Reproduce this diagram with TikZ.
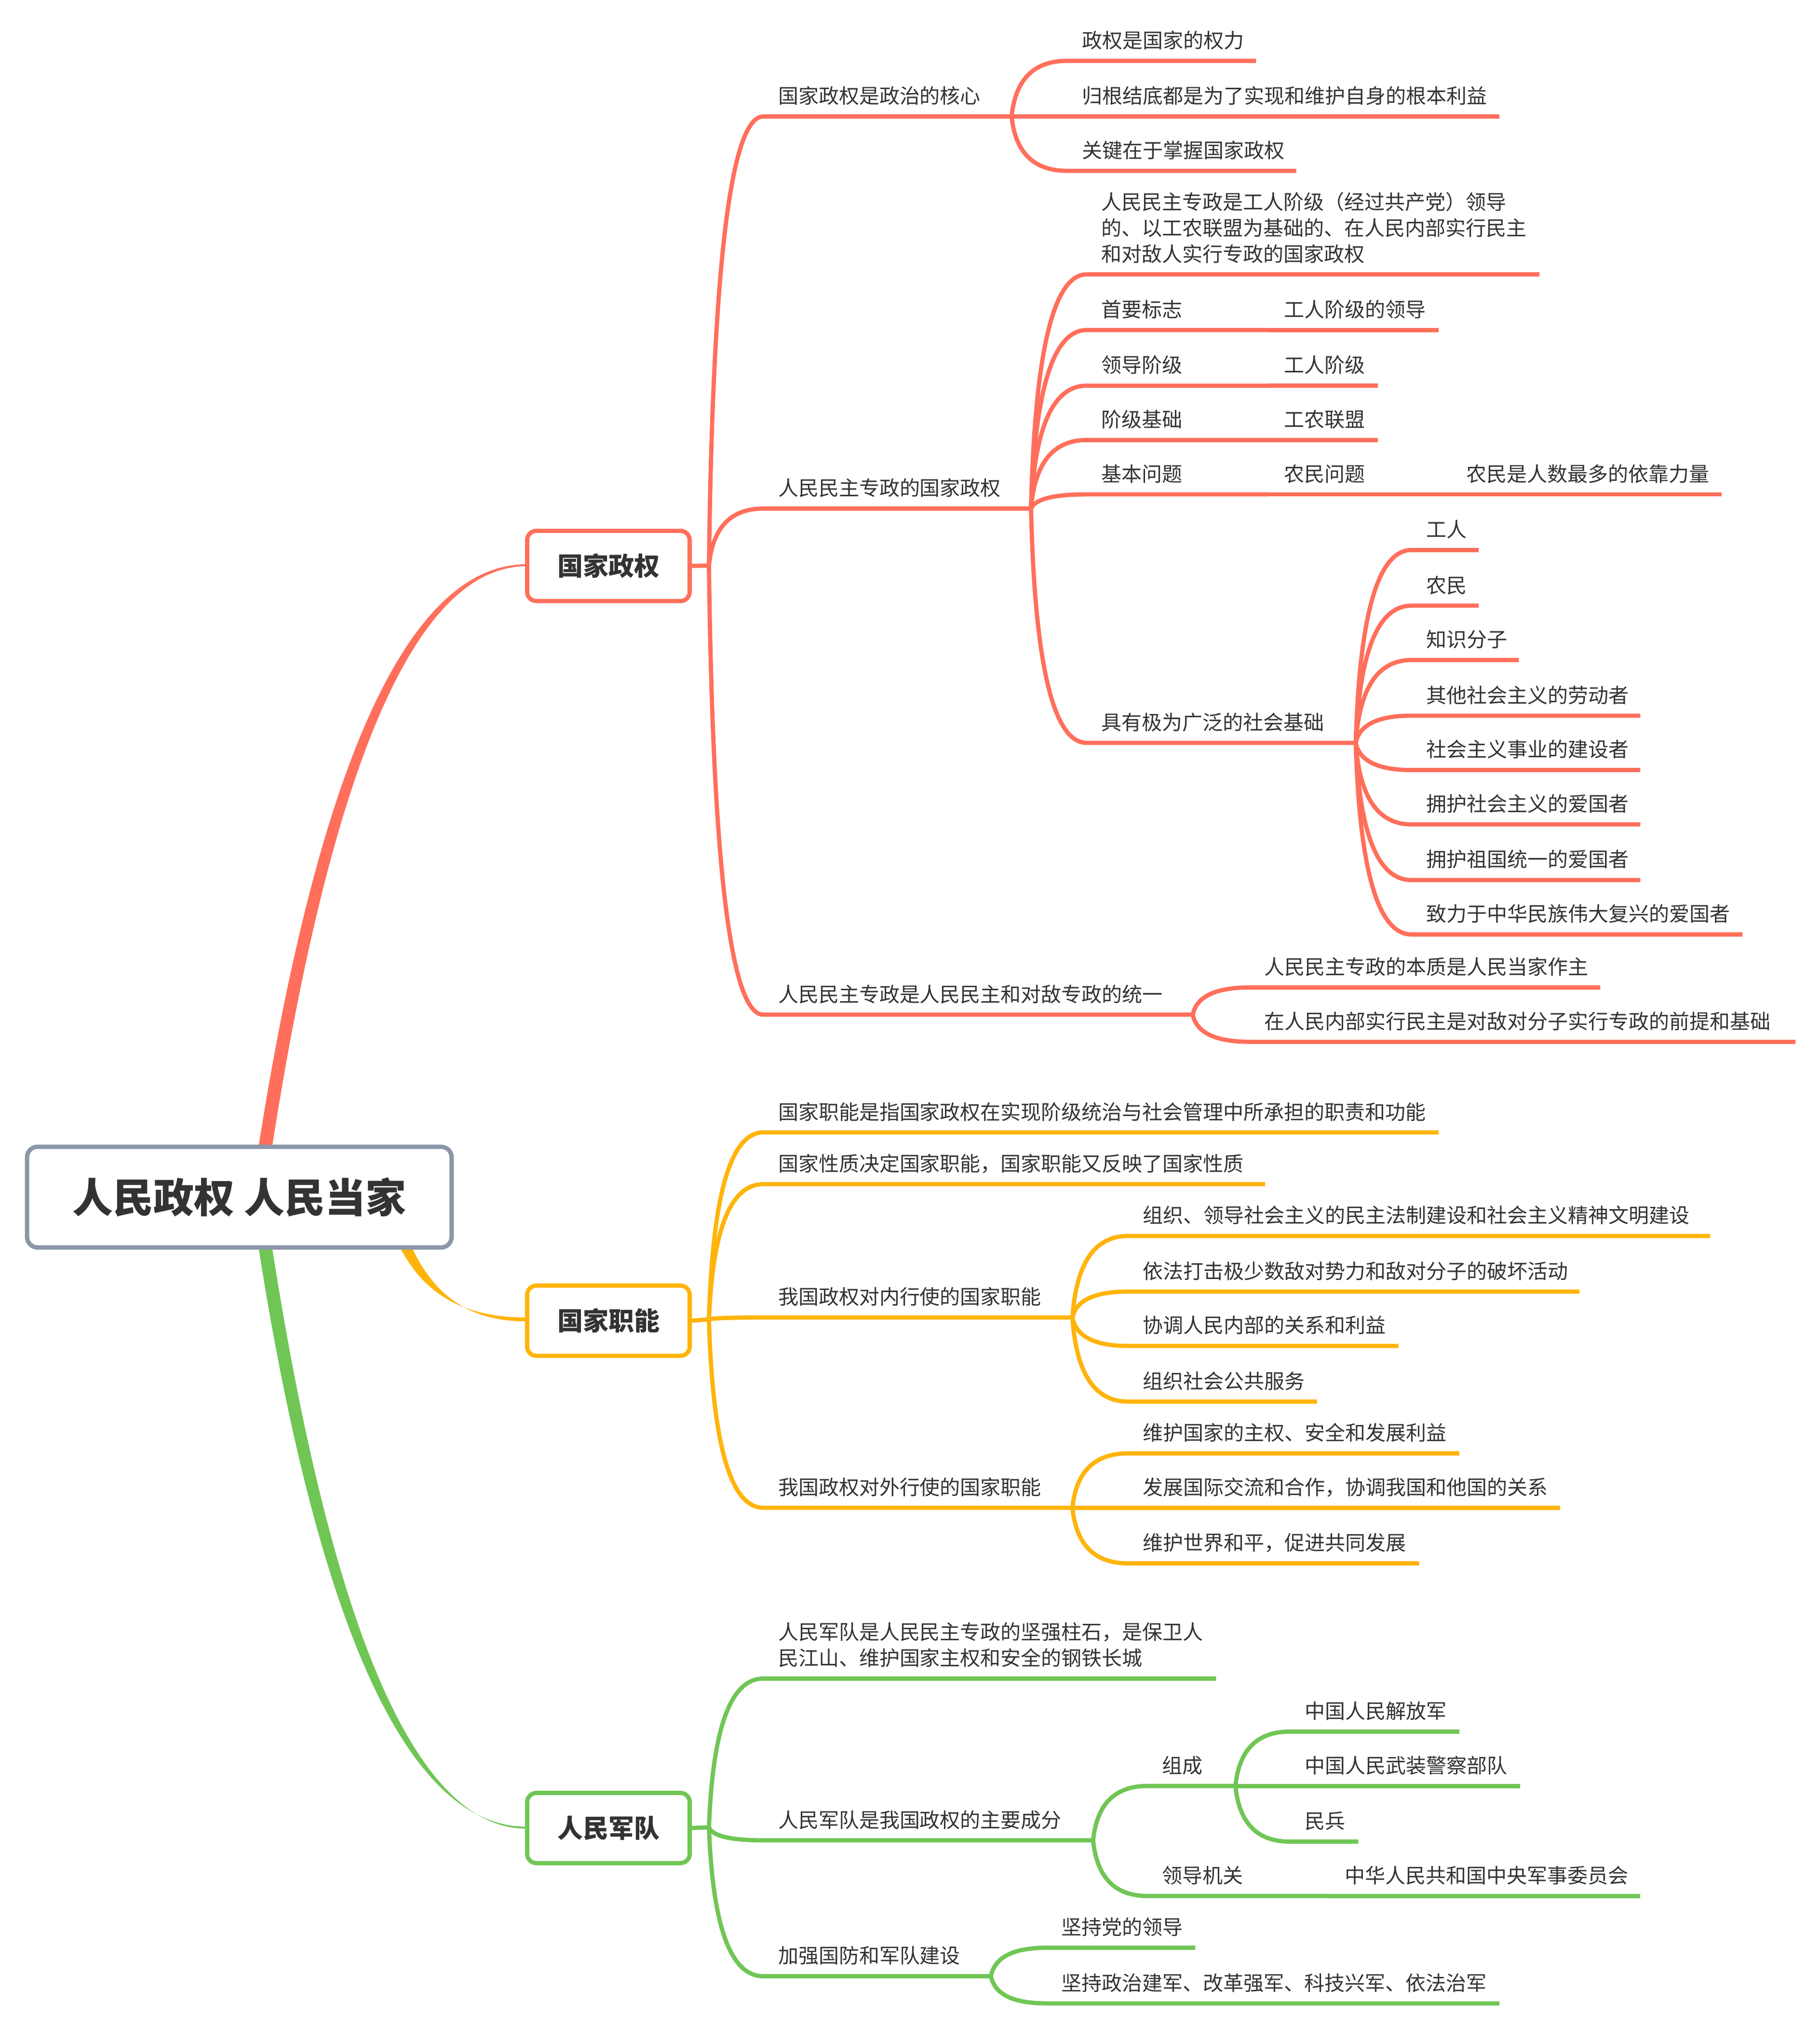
\documentclass[tikz,border=0pt]{standalone}
\usepackage{fontspec}
\setmainfont{Noto Sans CJK SC}
\usetikzlibrary{calc}
\definecolor{cred}{HTML}{FF6F5B}
\definecolor{cyel}{HTML}{FFB40B}
\definecolor{cgrn}{HTML}{70C655}
\definecolor{croot}{HTML}{8B97A8}
\definecolor{ctxt}{HTML}{333333}
\def\un{0.670875pt}
\tikzset{
  topic/.style={rectangle,anchor=south west,align=left,text=ctxt,inner xsep=7.7pt,inner ysep=6.7pt,outer sep=0pt,font=\fontsize{10.5pt}{13.5pt}\selectfont},
  wire/.style={line width=2.2pt,line cap=butt,line join=round},
  cv/.style={to path={let \p1=(\tikztostart),\p2=(\tikztotarget) in .. controls ({\x1+0.0667*(\x2-\x1)},{\y1+0.667*(\y2-\y1)}) and ({\x2-0.6*(\x2-\x1)},{\y2}) .. (\tikztotarget)}},
  main/.style={rectangle,draw,fill=white,line width=2.2pt,rounded corners=4.8pt,minimum width=84.3pt,minimum height=36.4pt,outer sep=0pt,text=ctxt,inner sep=0pt,font=\bfseries\fontsize{13.25pt}{16pt}\selectfont},
  rootbox/.style={rectangle,draw=croot,fill=white,line width=2.25pt,rounded corners=5.5pt,minimum width=220.2pt,minimum height=52.2pt,outer sep=0pt,text=ctxt,inner sep=0pt,font=\bfseries\fontsize{21pt}{25pt}\selectfont},
  forkpt/.style={rectangle,inner sep=0pt,minimum size=0pt,outer sep=0pt},
}
% \tp[depth]{parent}{name}{x start}{x end}{y line}{text}
\newcommand\tp[7][0pt]{%
  \node[topic,text depth={#1},text width={(#5-#4-23)*\un}] (#3) at (#4,#6) {#7};
  \draw[wire,brc] (#2.south east) to[cv] (#3.south west) -- (#3.south east);
}
\begin{document}
\begin{tikzpicture}[x=\un,y=-\un]
\useasboundingbox (0,0) rectangle (1406.8,1567.8);
\fill[white] (0,0) rectangle (1406.8,1567.8);

% tapered main connectors
\fill[cred] (194,925) .. controls (241,600) and (313,436) .. (407,436) -- (407,437.5) .. controls (319,437.5) and (251.5,600) .. (204.5,925) -- cycle;
\fill[cyel] (295,925) .. controls (311,988) and (344,1018) .. (407,1018) -- (407,1021) .. controls (350,1021) and (321,988) .. (305,925) -- cycle;
\fill[cgrn] (194,925) .. controls (241,1250) and (313,1411.5) .. (407,1411.5) -- (407,1413) .. controls (319,1413) and (251.5,1250) .. (204.5,925) -- cycle;

\node[rootbox] (root) at (185,925) {人民政权 人民当家};
\node[main,draw=cred] (m1) at (470.3,437.3) {国家政权};
\node[main,draw=cyel] (m2) at (470.3,1020.5) {国家职能};
\node[main,draw=cgrn] (m3) at (470.3,1412.5) {人民军队};
\node[forkpt] (f1) at (548,437) {};
\node[forkpt] (f2) at (548,1019.5) {};
\node[forkpt] (f3) at (548,1412) {};

\tikzset{brc/.style={draw=cred}}
\draw[wire,brc] (m1.east) -- (f1);
\tp{f1}{a1}{590}{782}{90}{国家政权是政治的核心}
\tp{a1}{a1a}{825}{971}{47}{政权是国家的权力}
\tp{a1}{a1b}{825}{1159}{90}{归根结底都是为了实现和维护自身的根本利益}
\tp{a1}{a1c}{825}{1002}{132}{关键在于掌握国家政权}
\tp{f1}{a2}{590}{797}{393}{人民民主专政的国家政权}
\tp[27pt]{a2}{a2a}{840}{1190}{212}{人民民主专政是工人阶级（经过共产党）领导\\的、以工农联盟为基础的、在人民内部实行民主\\和对敌人实行专政的国家政权}
\tp{a2}{a2b}{840}{981}{255}{首要标志}
\tp{a2b}{a2bb}{981}{1112}{255}{工人阶级的领导}
\tp{a2}{a2c}{840}{981}{298}{领导阶级}
\tp{a2c}{a2cc}{981}{1065}{298}{工人阶级}
\tp{a2}{a2d}{840}{981}{340}{阶级基础}
\tp{a2d}{a2dd}{981}{1065}{340}{工农联盟}
\tp{a2}{a2e}{840}{981}{382}{基本问题}
\tp{a2e}{a2ee}{981}{1122}{382}{农民问题}
\tp{a2ee}{a2eee}{1122}{1331}{382}{农民是人数最多的依靠力量}
\tp{a2}{a2f}{840}{1048}{574}{具有极为广泛的社会基础}
\tp{a2f}{s1}{1091}{1143}{425}{工人}
\tp{a2f}{s2}{1091}{1143}{468}{农民}
\tp{a2f}{s3}{1091}{1174}{510}{知识分子}
\tp{a2f}{s4}{1091}{1268}{553}{其他社会主义的劳动者}
\tp{a2f}{s5}{1091}{1268}{595}{社会主义事业的建设者}
\tp{a2f}{s6}{1091}{1268}{637}{拥护社会主义的爱国者}
\tp{a2f}{s7}{1091}{1268}{680}{拥护祖国统一的爱国者}
\tp{a2f}{s8}{1091}{1347}{722}{致力于中华民族伟大复兴的爱国者}
\tp{f1}{a3}{590}{922}{784}{人民民主专政是人民民主和对敌专政的统一}
\tp{a3}{a3a}{966}{1237}{763}{人民民主专政的本质是人民当家作主}
\tp{a3}{a3b}{966}{1388}{805}{在人民内部实行民主是对敌对分子实行专政的前提和基础}

\tikzset{brc/.style={draw=cyel}}
\draw[wire,brc] (m2.east) -- (f2);
\tp{f2}{b1}{590}{1112}{875}{国家职能是指国家政权在实现阶级统治与社会管理中所承担的职责和功能}
\tp{f2}{b2}{590}{978}{915}{国家性质决定国家职能，国家职能又反映了国家性质}
\tp{f2}{b3}{590}{829}{1018}{我国政权对内行使的国家职能}
\tp{b3}{b3a}{872}{1322}{955}{组织、领导社会主义的民主法制建设和社会主义精神文明建设}
\tp{b3}{b3b}{872}{1221}{998}{依法打击极少数敌对势力和敌对分子的破坏活动}
\tp{b3}{b3c}{872}{1081}{1040}{协调人民内部的关系和利益}
\tp{b3}{b3d}{872}{1018}{1083}{组织社会公共服务}
\tp{f2}{b4}{590}{829}{1165}{我国政权对外行使的国家职能}
\tp{b4}{b4a}{872}{1128}{1123}{维护国家的主权、安全和发展利益}
\tp{b4}{b4b}{872}{1206}{1165}{发展国际交流和合作，协调我国和他国的关系}
\tp{b4}{b4c}{872}{1097}{1208}{维护世界和平，促进共同发展}

\tikzset{brc/.style={draw=cgrn}}
\draw[wire,brc] (m3.east) -- (f3);
\tp[13.5pt]{f3}{c1}{590}{940}{1297}{人民军队是人民民主专政的坚强柱石，是保卫人\\民江山、维护国家主权和安全的钢铁长城}
\tp{f3}{c2}{590}{845}{1422}{人民军队是我国政权的主要成分}
\tp{c2}{c2a}{887}{955}{1380}{组成}
\tp{c2a}{c2a1}{997}{1128}{1338}{中国人民解放军}
\tp{c2a}{c2a2}{997}{1175}{1380}{中国人民武装警察部队}
\tp{c2a}{c2a3}{997}{1050}{1423}{民兵}
\tp{c2}{c2b}{887}{1028}{1465}{领导机关}
\tp{c2b}{c2bb}{1028}{1268}{1465}{中华人民共和国中央军事委员会}
\tp{f3}{c3}{590}{766}{1527}{加强国防和军队建设}
\tp{c3}{c3a}{809}{924}{1505}{坚持党的领导}
\tp{c3}{c3b}{809}{1159}{1548}{坚持政治建军、改革强军、科技兴军、依法治军}
\end{tikzpicture}
\end{document}
